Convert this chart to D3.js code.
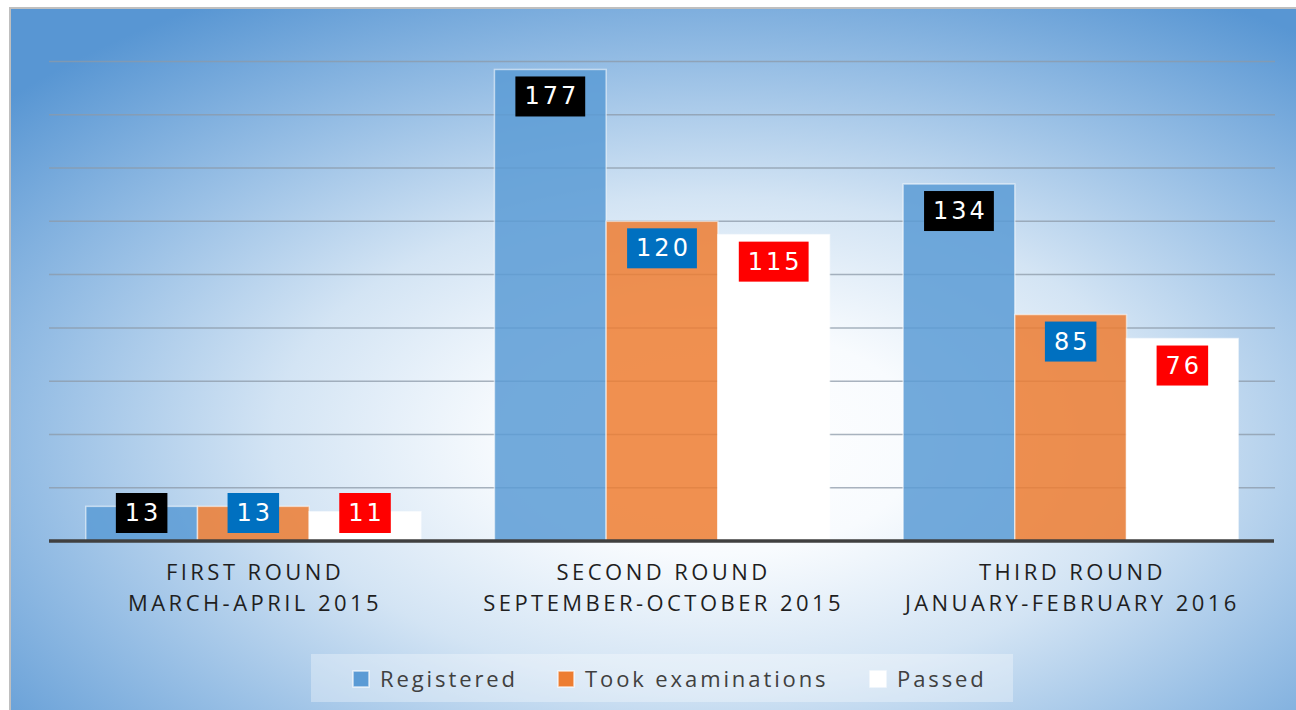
<!DOCTYPE html>
<html>
<head>
<meta charset="utf-8">
<script src="https://cdn.jsdelivr.net/npm/d3@7/dist/d3.min.js"></script>
<style>
html,body{margin:0;padding:0;background:#fff;}
svg{display:block;}
</style>
</head>
<body>
<svg id="chart" width="1296" height="710"></svg>
<script>
// ---- data ----
const categoriesLine1 = ["FIRST ROUND", "SECOND ROUND", "THIRD ROUND"];
const categoriesLine2 = ["MARCH-APRIL 2015", "SEPTEMBER-OCTOBER 2015", "JANUARY-FEBRUARY 2016"];
const seriesNames = ["Registered", "Took examinations", "Passed"];
const registered = [13, 177, 134];
const tookExaminations = [13, 120, 85];
const passed = [11, 115, 76];
const yTicks = [0, 20, 40, 60, 80, 100, 120, 140, 160, 180];

// ---- styles ----
const barColors = ["#5b9bd5", "#ed7d31", "#ffffff"];
const barOpacity = [0.85, 0.85, 1];
const labelBoxColors = ["#000000", "#0070c0", "#ff0000"];

const svg = d3.select("#chart");
const W = 1296, H = 710;

// background gradient
const defs = svg.append("defs");
const grad = defs.append("radialGradient")
  .attr("id", "bg")
  .attr("cx", 0.54).attr("cy", 0.6).attr("r", 0.72)
  .attr("fx", 0.54).attr("fy", 0.6);
[[0, "#ffffff"], [0.22, "#f8fbfe"], [0.47, "#d3e4f4"], [0.72, "#98bfe5"], [1, "#5896d3"]]
  .forEach(([o, c]) => grad.append("stop").attr("offset", o).attr("stop-color", c));

svg.append("rect").attr("x", 10).attr("y", 8).attr("width", W + 10).attr("height", H + 10)
  .attr("fill", "url(#bg)").attr("stroke", "#bfbfbf").attr("stroke-width", 2);

// scales
const plotLeft = 49, plotRight = 1275, baseY = 541;
const x0 = d3.scaleBand().domain(d3.range(categoriesLine1.length))
  .range([plotLeft, plotRight]).paddingInner(0.18).paddingOuter(0.09);
const x1 = d3.scaleBand().domain(d3.range(seriesNames.length)).range([0, x0.bandwidth()]).padding(0);
const y = d3.scaleLinear().domain([0, 180]).range([baseY, baseY - 180 * 2.664]);

// gridlines
svg.append("g").selectAll("line").data(yTicks.filter(t => t > 0)).join("line")
  .attr("x1", plotLeft).attr("x2", plotRight)
  .attr("y1", d => y(d)).attr("y2", d => y(d))
  .attr("stroke", "#8c9aa8").attr("stroke-opacity", 0.75).attr("stroke-width", 1.5);

// bars
const series = [registered, tookExaminations, passed];
const rows = [];
categoriesLine1.forEach((c, i) => series.forEach((s, j) => rows.push({ i, j, v: s[i] })));

const gBars = svg.append("g");
gBars.selectAll("rect").data(rows).join("rect")
  .attr("x", d => x0(d.i) + x1(d.j))
  .attr("y", d => y(d.v))
  .attr("width", x1.bandwidth())
  .attr("height", d => baseY - y(d.v))
  .attr("fill", d => barColors[d.j])
  .attr("fill-opacity", d => barOpacity[d.j])
  .attr("stroke", "rgba(255,255,255,0.55)")
  .attr("stroke-width", 1.5);

// baseline
svg.append("line").attr("x1", plotLeft).attr("x2", plotRight - 1)
  .attr("y1", baseY).attr("y2", baseY)
  .attr("stroke", "#404040").attr("stroke-width", 3.5);

// data labels
const gLab = svg.append("g");
rows.forEach(d => {
  const cx = x0(d.i) + x1(d.j) + x1.bandwidth() / 2;
  const boxH = 40;
  const top = Math.min(y(d.v) + 7, baseY - 8 - boxH);
  const g = gLab.append("g");
  const rect = g.append("rect").attr("fill", labelBoxColors[d.j]);
  const t = g.append("text")
    .attr("x", cx).attr("y", top + boxH / 2)
    .attr("text-anchor", "middle").attr("dominant-baseline", "central")
    .attr("font-family", "DejaVu Sans").attr("font-size", 24)
    .attr("letter-spacing", 3)
    .attr("fill", "#ffffff").text(d.v);
  const bb = t.node().getBBox();
  const bw = bb.width + 15;
  rect.attr("x", cx - bw / 2).attr("y", top).attr("width", bw).attr("height", boxH);
  t.attr("dx", 1.5);
});

// category labels
const gCat = svg.append("g");
categoriesLine1.forEach((c, i) => {
  const cx = x0(i) + x0.bandwidth() / 2;
  gCat.append("text").attr("x", cx + 1.7).attr("y", 580)
    .attr("text-anchor", "middle").attr("font-family", "Open Sans").attr("font-size", 22)
    .attr("letter-spacing", 3.45).attr("fill", "#1f1f1f").text(c);
  gCat.append("text").attr("x", cx + 1.7).attr("y", 611)
    .attr("text-anchor", "middle").attr("font-family", "Open Sans").attr("font-size", 22)
    .attr("letter-spacing", 3.45).attr("fill", "#1f1f1f").text(categoriesLine2[i]);
});

// legend
svg.append("rect").attr("x", 311).attr("y", 654).attr("width", 702).attr("height", 48)
  .attr("fill", "#ffffff").attr("fill-opacity", 0.32);
const legendX = [353, 558, 870];
const gLeg = svg.append("g");
seriesNames.forEach((n, j) => {
  gLeg.append("rect").attr("x", legendX[j]).attr("y", 671).attr("width", 16).attr("height", 16)
    .attr("fill", barColors[j]).attr("stroke", "rgba(255,255,255,0.7)").attr("stroke-width", 1.5);
  gLeg.append("text").attr("x", legendX[j] + 27).attr("y", 687)
    .attr("font-family", "Open Sans").attr("font-size", 22).attr("letter-spacing", 2.9)
    .attr("fill", "#404040").text(n);
});
</script>
</body>
</html>
